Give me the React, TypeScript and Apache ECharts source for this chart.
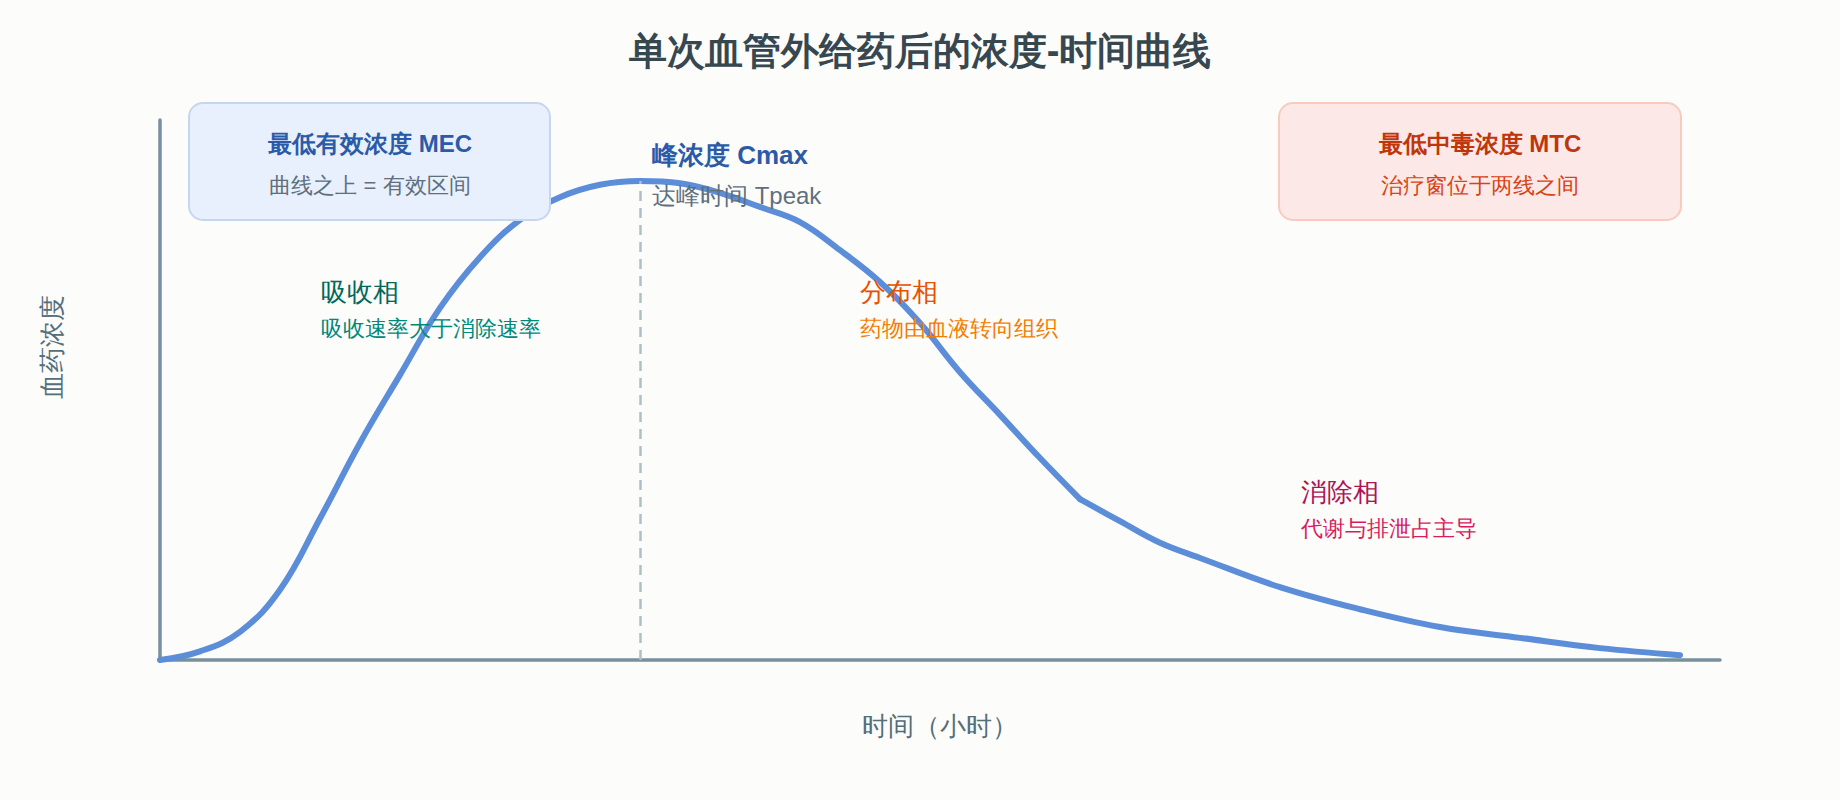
import React, { useEffect, useRef } from "react";
import * as echarts from "echarts";

// Time (hours) and plasma concentration
const timeHours = [0, 0.5, 1, 1.5, 2, 2.5, 3, 3.5, 4, 4.5, 5, 5.5, 6, 6.5, 7, 7.5, 8, 8.5, 9, 9.5, 10, 10.5, 11, 11.5, 12, 12.5, 13, 14, 15, 16, 17, 18, 19];
const concentration = [0, 0.16, 0.52, 1.3, 2.62, 4.02, 5.28, 6.52, 7.46, 8.15, 8.57, 8.8, 8.87, 8.83, 8.65, 8.39, 8.11, 7.59, 7.0, 6.24, 5.33, 4.54, 3.74, 2.98, 2.57, 2.17, 1.89, 1.35, 0.94, 0.61, 0.41, 0.22, 0.09];
// time at which the distribution phase gives way to the elimination phase
const phaseBreak = 11.5;
const tPeak = 6;
const cMax = 8.87;
const xMax = 19.5;
const yMax = 10;

const chartTitle = "单次血管外给药后的浓度-时间曲线";
const xAxisName = "时间（小时）";
const yAxisName = "血药浓度";
const boxTitles = ["最低有效浓度 MEC", "最低中毒浓度 MTC"];
const boxSubtitles = ["曲线之上 = 有效区间", "治疗窗位于两线之间"];
const peakTexts = ["峰浓度 Cmax", "达峰时间 Tpeak"];
const phaseTitles = ["吸收相", "分布相", "消除相"];
const phaseSubtitles = ["吸收速率大于消除速率", "药物由血液转向组织", "代谢与排泄占主导"];

export default function App() {
  const ref = useRef<HTMLDivElement>(null);

  useEffect(() => {
    if (!ref.current) return;
    const chart = echarts.init(ref.current, null, { renderer: "svg" });
    const data = timeHours.map((t, i) => [t, concentration[i]]);
    const early = data.filter((d) => d[0] <= phaseBreak);
    const late = data.filter((d) => d[0] >= phaseBreak);

    const txt = (
      text: string,
      x: number,
      y: number,
      fill: string,
      fontSize: number,
      fontWeight: string = "normal",
      align: string = "left",
      rotation: number = 0
    ) => ({
      type: "text",
      x,
      y,
      z: 100,
      rotation,
      style: {
        text,
        fill,
        fontSize,
        fontWeight,
        align,
        verticalAlign: "middle",
        fontFamily: "sans-serif",
      },
    });

    const box = (x: number, y: number, w: number, h: number, fill: string, stroke: string) => ({
      type: "rect",
      z: 99,
      shape: { x, y, width: w, height: h, r: 14 },
      style: { fill, stroke, lineWidth: 2 },
    });

    const curveStyle = { color: "#5b8dd8", width: 6, cap: "round", join: "round" };

    chart.setOption({
      animation: false,
      backgroundColor: "#fcfcfa",
      title: {
        text: chartTitle,
        left: "center",
        top: 27,
        textStyle: { fontSize: 38, fontWeight: "bold", color: "#37474f", fontFamily: "sans-serif" },
      },
      grid: { left: 160, right: 120, top: 120, bottom: 140, containLabel: false },
      xAxis: {
        type: "value",
        min: 0,
        max: xMax,
        name: xAxisName,
        nameLocation: "middle",
        nameGap: 53,
        nameTextStyle: { fontSize: 25.6, color: "#546e7a", fontFamily: "sans-serif" },
        axisLine: { show: true, lineStyle: { color: "#78909c", width: 3.5 } },
        axisTick: { show: false },
        axisLabel: { show: false },
        splitLine: { show: false },
      },
      yAxis: {
        type: "value",
        min: 0,
        max: yMax,
        axisLine: { show: true, lineStyle: { color: "#78909c", width: 3.5 } },
        axisTick: { show: false },
        axisLabel: { show: false },
        splitLine: { show: false },
      },
      series: [
        {
          type: "line",
          data: early,
          smooth: 0.4,
          showSymbol: false,
          lineStyle: curveStyle,
          z: 3,
          markLine: {
            silent: true,
            symbol: ["none", "none"],
            label: { show: false },
            lineStyle: { color: "#b0bec5", width: 2.5, type: [10, 7] },
            data: [[{ coord: [tPeak, 0] }, { coord: [tPeak, cMax] }]],
          },
        },
        {
          type: "line",
          data: late,
          smooth: 0.4,
          showSymbol: false,
          lineStyle: curveStyle,
          z: 3,
        },
      ],
      graphic: [
        box(189, 103, 361, 117, "#e8f0fd", "#c5d6ef"),
        box(1279, 103, 402, 117, "#fce8e6", "#f9cbbf"),
        txt(boxTitles[0], 370, 143, "#2b5ba8", 24, "bold", "center"),
        txt(boxSubtitles[0], 370, 185, "#5f6f7e", 22, "normal", "center"),
        txt(boxTitles[1], 1480, 143, "#bf360c", 24, "bold", "center"),
        txt(boxSubtitles[1], 1480, 185, "#d84315", 22, "normal", "center"),
        txt(peakTexts[0], 652, 155, "#2b5ba8", 26, "bold"),
        txt(peakTexts[1], 652, 195, "#5f6f7e", 24),
        txt(phaseTitles[0], 321, 292, "#00695c", 26),
        txt(phaseSubtitles[0], 321, 328, "#00897b", 22),
        txt(phaseTitles[1], 860, 292, "#e65100", 26),
        txt(phaseSubtitles[1], 860, 328, "#f57c00", 22),
        txt(phaseTitles[2], 1301, 492, "#ad1457", 26),
        txt(phaseSubtitles[2], 1301, 528, "#d81b60", 22),
        txt(yAxisName, 52, 347, "#546e7a", 26, "normal", "center", Math.PI / 2),
      ],
    });

    return () => chart.dispose();
  }, []);

  return (
    <div
      ref={ref}
      style={{ position: "fixed", left: 0, top: 0, width: 1840, height: 800, background: "#fcfcfa" }}
    />
  );
}
